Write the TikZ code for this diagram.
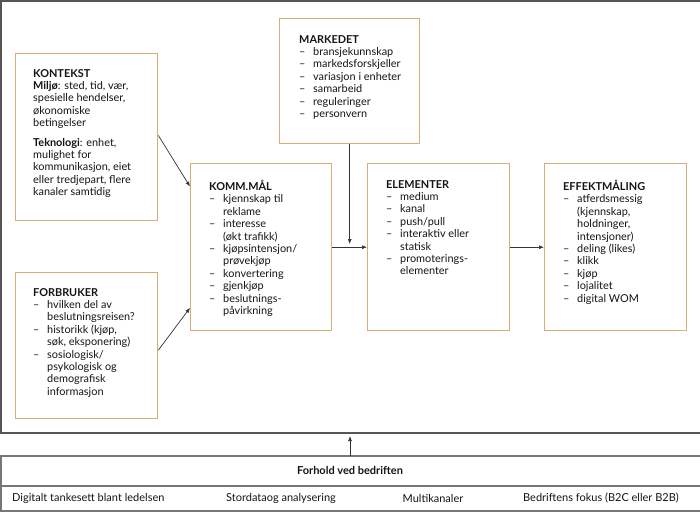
\documentclass[tikz,border=0pt]{standalone}
\usepackage{fontspec}
\setmainfont{Lato}
\usetikzlibrary{arrows.meta,calc}
\definecolor{boxc}{RGB}{214,174,118}
\definecolor{framec}{RGB}{85,85,85}
\definecolor{txtc}{RGB}{20,20,20}
\newcommand{\dsh}{\makebox[14pt][l]{–}}
\newcommand{\ind}{\hspace*{14pt}}
\tikzset{
  box/.style={draw=boxc, line width=1.4pt, rectangle, inner sep=0pt, anchor=north west},
  txt/.style={anchor=north west, inner sep=0pt, align=left, text=txtc,
     font=\fontsize{10.9}{12.4}\selectfont},
  arr/.style={draw=black!80, line width=0.7pt, -{Latex[length=5pt,width=4pt]}},
  btxt/.style={inner sep=0pt, text=txtc, font=\fontsize{11}{12}\selectfont},
}
\begin{document}
\begin{tikzpicture}[x=1pt,y=-1pt]
\useasboundingbox (0,0) rectangle (700,513);
% outer frame
\draw[framec, line width=1.3pt] (701,433) -- (1,433) -- (1,1);
\draw[framec, line width=2pt] (0,1) -- (700,1);
% bottom box
\draw[framec!80, line width=1.2pt] (701,456) -- (1,456) -- (1,511) -- (701,511);
\draw[framec!80, line width=1.2pt] (1,486) -- (701,486);
\coordinate (bt) at (350,456);
\coordinate (fb) at (350,436);
\draw[arr] (bt) -- (fb);
\node[btxt, font=\fontsize{11}{12}\selectfont\bfseries] (forh) at (350,470) {Forhold ved bedriften};
\node[btxt, anchor=west] (b1) at (12,498) {Digitalt tankesett blant ledelsen};
\node[btxt] (b2) at (281,498) {Stordataog analysering};
\node[btxt] (b3) at (433,498) {Multikanaler};
\node[btxt] (b4) at (601,498) {Bedriftens fokus (B2C eller B2B)};

% boxes
\node[box, minimum width=142pt, minimum height=167pt] (kon) at (15,53) {};
\node[box, minimum width=142pt, minimum height=146pt] (for) at (15,272) {};
\node[box, minimum width=141pt, minimum height=167pt] (kom) at (190,163) {};
\node[box, minimum width=140pt, minimum height=125pt] (mar) at (279,18) {};
\node[box, minimum width=142pt, minimum height=167pt] (ele) at (367,163) {};
\node[box, minimum width=142pt, minimum height=167pt] (eff) at (544,163) {};

\node[txt] (kont) at ($(kon.north west)+(18,16)$) {%
\textbf{KONTEKST}\\
\textbf{Miljø}: sted, tid, vær,\\
spesielle hendelser,\\
økonomiske\\
betingelser\\[7pt]
\textbf{Teknologi}: enhet,\\
mulighet for\\
kommunikasjon, eiet\\
eller tredjepart, flere\\
kanaler samtidig};

\node[txt] (fort) at ($(for.north west)+(18,16)$) {%
\textbf{FORBRUKER}\\
\dsh hvilken del av\\
\ind beslutningsreisen?\\
\dsh historikk (kjøp,\\
\ind søk, eksponering)\\
\dsh sosiologisk/\\
\ind psykologisk og\\
\ind demografisk\\
\ind informasjon};

\node[txt] (komt) at ($(kom.north west)+(19,17)$) {%
\textbf{KOMM.MÅL}\\
\dsh kjennskap til\\
\ind reklame\\
\dsh interesse\\
\ind (økt trafikk)\\
\dsh kjøpsintensjon/\\
\ind prøvekjøp\\
\dsh konvertering\\
\dsh gjenkjøp\\
\dsh beslutnings-\\
\ind påvirkning};

\node[txt] (mart) at ($(mar.north west)+(20,17)$) {%
\textbf{MARKEDET}\\
\dsh bransjekunnskap\\
\dsh markedsforskjeller\\
\dsh variasjon i enheter\\
\dsh samarbeid\\
\dsh reguleringer\\
\dsh personvern};

\node[txt] (elet) at ($(ele.north west)+(19,17)$) {%
\textbf{ELEMENTER}\\
\dsh medium\\
\dsh kanal\\
\dsh push/pull\\
\dsh interaktiv eller\\
\ind statisk\\
\dsh promoterings-\\
\ind elementer};

\node[txt] (efft) at ($(eff.north west)+(19,17)$) {%
\textbf{EFFEKTMÅLING}\\
\dsh atferdsmessig\\
\ind (kjennskap,\\
\ind holdninger,\\
\ind intensjoner)\\
\dsh deling (likes)\\
\dsh klikk\\
\dsh kjøp\\
\dsh lojalitet\\
\dsh digital WOM};

% connectors
\draw[arr] ($(kon.north east)!0.49!(kon.south east)$) -- ($(kom.north west)!0.14!(kom.south west)$);
\draw[arr] ($(for.north east)!0.53!(for.south east)$) -- ($(kom.north west)!0.86!(kom.south west)$);
\draw[arr] (mar.south) ++(0,0) coordinate (ms) -- (ms |- 0,244) coordinate (mtip);
\draw[arr] ($(kom.north east)!0.5!(kom.south east)$) -- ($(ele.north west)!0.5!(ele.south west)$);
\draw[arr] ($(ele.north east)!0.5!(ele.south east)$) -- ($(eff.north west)!0.5!(eff.south west)$);
\end{tikzpicture}
\end{document}
